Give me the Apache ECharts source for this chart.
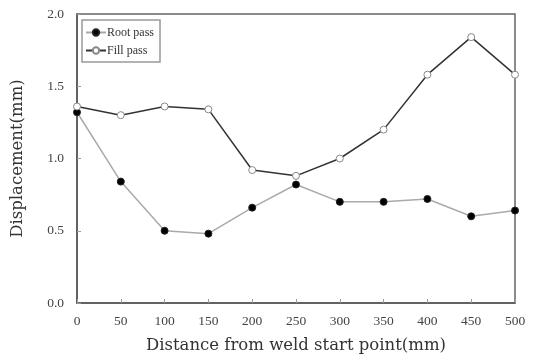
<!DOCTYPE html>
<html><head><meta charset="utf-8">
<script src="https://cdn.jsdelivr.net/npm/echarts@6/dist/echarts.min.js"></script>
<style>html,body{margin:0;padding:0;background:#fff}#c{width:534px;height:363px}</style>
</head><body><div id="c"></div>
<script>
var distances = [0, 50, 100, 150, 200, 250, 300, 350, 400, 450, 500];
var rootPass = [1.32, 0.84, 0.50, 0.48, 0.66, 0.82, 0.70, 0.70, 0.72, 0.60, 0.64];
var fillPass = [1.36, 1.30, 1.36, 1.34, 0.92, 0.88, 1.00, 1.20, 1.58, 1.84, 1.58];
var seriesNames = ['Root pass', 'Fill pass'];
var xTitle = 'Distance from weld start point(mm)';
var yTitle = 'Displacement(mm)';

function pairs(xs, ys){ return xs.map(function(x,i){ return [x, ys[i]]; }); }

var chart = echarts.init(document.getElementById('c'), null, {renderer:'canvas'});
var serif = 'Liberation Serif';
chart.setOption({
  animation: false,
  backgroundColor: '#fff',
  grid: {left: 77, right: 19, top: 14, bottom: 60, containLabel: false, outerBoundsMode: 'none',
    show: true, borderColor: '#666', borderWidth: 1.5, backgroundColor: 'transparent'},
  legend: {
    orient: 'vertical', left: 82, top: 20,
    padding: [6, 6, 5, 3], itemGap: 5,
    itemWidth: 20, itemHeight: 8,
    borderColor: '#999', borderWidth: 1.5, borderRadius: 0,
    textStyle: {fontFamily: serif, fontSize: 12, color: '#333', padding: [0,0,0,-4], lineHeight: 13},
    data: seriesNames
  },
  xAxis: {
    type: 'value', min: 0, max: 500, interval: 50,
    name: xTitle, nameLocation: 'middle', nameGap: 34,
    nameTextStyle: {fontFamily: 'DejaVu Serif', fontSize: 16.5, color: '#333'},
    axisLine: {show: true, lineStyle: {color: '#555', width: 1.5}},
    axisTick: {show: true, inside: true, length: 4, lineStyle: {color: '#999'}},
    axisLabel: {fontFamily: serif, fontSize: 13.5, color: '#444', margin: 11},
    splitLine: {show: false}
  },
  yAxis: {
    type: 'value', min: 0, max: 2, interval: 0.5,
    name: yTitle, nameLocation: 'middle', nameGap: 51,
    nameTextStyle: {fontFamily: 'DejaVu Serif', fontSize: 16.5, color: '#333'},
    axisLine: {show: true, lineStyle: {color: '#555', width: 1.5}},
    axisTick: {show: true, inside: true, length: 4, lineStyle: {color: '#999'}},
    axisLabel: {fontFamily: serif, fontSize: 13.5, color: '#444', margin: 13,
      formatter: function(v){ return v.toFixed(1); }},
    splitLine: {show: false}
  },
  series: [
    {
      name: seriesNames[0], type: 'line', data: pairs(distances, rootPass),
      symbol: 'circle', symbolSize: 7,
      lineStyle: {color: '#aaa', width: 1.5},
      itemStyle: {color: '#000', borderColor: '#222', borderWidth: 1},
      z: 2
    },
    {
      name: seriesNames[1], type: 'line', data: pairs(distances, fillPass),
      symbol: 'circle', symbolSize: 7,
      lineStyle: {color: '#333', width: 1.5},
      itemStyle: {color: '#fff', borderColor: '#888', borderWidth: 1},
      z: 3
    }
  ]
});
</script></body></html>
